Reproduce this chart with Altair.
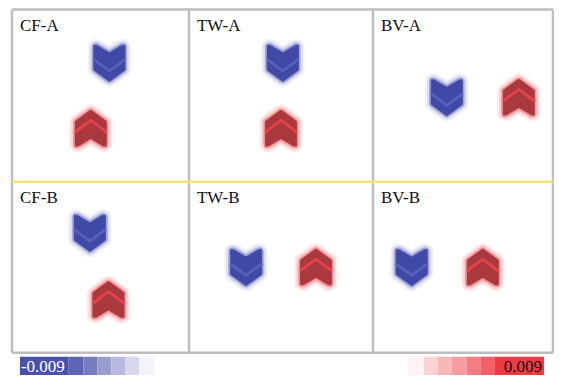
import altair as alt
import pandas as pd

# ---------------- data ----------------
panels = ["CF-A", "TW-A", "BV-A", "CF-B", "TW-B", "BV-B"]
panel_row = [0, 0, 0, 1, 1, 1]
panel_col = [0, 1, 2, 0, 1, 2]
# chevron positions inside each panel (fraction of panel width / height, y downward)
neg_x = [0.55, 0.51, 0.41, 0.44, 0.31, 0.215]
neg_y = [0.31, 0.31, 0.51, 0.30, 0.50, 0.50]
pos_x = [0.445, 0.50, 0.81, 0.545, 0.69, 0.61]
pos_y = [0.69, 0.69, 0.51, 0.69, 0.50, 0.50]
# colour-bar cells
neg_bar = [-0.009, -0.008, -0.0067, -0.0051, -0.0036, -0.002, -0.0006]
pos_bar = [0.0005, 0.002, 0.0033, 0.0045, 0.006, 0.0072, 0.009]
bar_labels = ["-0.009", "0.009"]

# ---------------- layout (figure units) ----------------
W, H = 546, 368
col_edges = [15, 193, 378, 559]
row_edges = [2, 181, 358.5]
neg_widths = [49, 15, 14, 14, 14, 14, 15]
pos_widths = [16, 14, 14, 15, 14, 14, 50]
neg_start, pos_start = 23, 413
bar_top, bar_bot = 362.7, 381.7
FONT = "Liberation Serif"
SIDE = 38
SIZE = SIDE * SIDE
CORE = (SIDE * 0.82) ** 2

xs = alt.Scale(domain=[15, 559], range=[4, 545], nice=False, zero=False)
ys = alt.Scale(domain=[2, 381.7], range=[1.5, 367], nice=False, zero=False)


def panel_xy(i, fx, fy):
    c, r = panel_col[i], panel_row[i]
    x0, x1 = col_edges[c], col_edges[c + 1]
    y0, y1 = row_edges[r], row_edges[r + 1]
    return x0 + fx * (x1 - x0), y0 + fy * (y1 - y0)


neg_df = pd.DataFrame([dict(zip(("x", "y"), panel_xy(i, neg_x[i], neg_y[i]))) for i in range(6)])
pos_df = pd.DataFrame([dict(zip(("x", "y"), panel_xy(i, pos_x[i], pos_y[i]))) for i in range(6)])

# frame lines
lines = []
for cx in col_edges:
    lines.append(dict(x=cx, x2=cx, y=row_edges[0], y2=row_edges[-1], kind="gray"))
for k, ry in enumerate(row_edges):
    lines.append(dict(x=col_edges[0], x2=col_edges[-1], y=ry, y2=ry,
                      kind="yellow" if k == 1 else "gray"))
lines_df = pd.DataFrame(lines)

labels_df = pd.DataFrame([
    dict(label=panels[i], x=col_edges[panel_col[i]] + 8, y=row_edges[panel_row[i]] + 22)
    for i in range(6)
])

cells = []
x = neg_start
for v, w in zip(neg_bar, neg_widths):
    cells.append(dict(v=v, x=x, x2=x + w, y=bar_top, y2=bar_bot))
    x += w
x = pos_start
for v, w in zip(pos_bar, pos_widths):
    cells.append(dict(v=v, x=x, x2=x + w, y=bar_top, y2=bar_bot))
    x += w
cells_df = pd.DataFrame(cells)

neg_text_df = pd.DataFrame([dict(t=bar_labels[0], x=neg_start + 1, y=bar_bot - 3.5)])
pos_text_df = pd.DataFrame([dict(t=bar_labels[1], x=pos_start + sum(pos_widths) - 2, y=bar_bot - 3.5)])

# ---------------- chevrons ----------------
DOWN = "M -0.85 -1 L 0 -0.5 L 0.85 -1 L 0.85 0.38 L 0 1 L -0.85 0.38 Z"
DOWN_IN = "M -0.85 -0.2 L 0 0.42 L 0.85 -0.2"
UP = "M -0.85 1 L 0 0.5 L 0.85 1 L 0.85 -0.38 L 0 -1 L -0.85 -0.38 Z"
UP_IN = "M -0.85 0.2 L 0 -0.42 L 0.85 0.2"


def enc(ch):
    return ch.encode(
        x=alt.X("x:Q", scale=xs, axis=None),
        y=alt.Y("y:Q", scale=ys, axis=None),
    )


def chevron(df, body_path, inner_path, glow, mid, body, inner):
    base = alt.Chart(df)
    layers = [enc(base.mark_point(shape=body_path, size=SIZE, filled=True, fill="#5c5c66",
                                  strokeWidth=0, opacity=0.8))]
    for sw, op, col in [(17, 0.1), (13, 0.18), (9, 0.4), (5, 0.92)] and [
        (17, 0.1, glow), (13, 0.18, glow), (9, 0.4, mid), (5, 0.92, body)
    ]:
        layers.append(enc(base.mark_point(shape=body_path, size=CORE, filled=True, fill=col,
                                          stroke=col, strokeWidth=sw, strokeJoin="round",
                                          opacity=op)))
    layers.append(enc(base.mark_point(shape=inner_path, size=SIZE, filled=False, stroke=inner,
                                      strokeWidth=3, opacity=0.75, strokeJoin="round")))
    return layers


frame = alt.Chart(lines_df).mark_rule(strokeWidth=2.5).encode(
    x=alt.X("x:Q", scale=xs, axis=None), x2="x2:Q",
    y=alt.Y("y:Q", scale=ys, axis=None), y2="y2:Q",
    color=alt.Color("kind:N", scale=alt.Scale(domain=["gray", "yellow"],
                                              range=["#bdbdbd", "#f7e27a"]), legend=None),
)

labels = alt.Chart(labels_df).mark_text(font=FONT, fontSize=17, align="left",
                                        baseline="alphabetic", color="#111111").encode(
    x=alt.X("x:Q", scale=xs, axis=None), y=alt.Y("y:Q", scale=ys, axis=None), text="label:N")

bar = alt.Chart(cells_df).mark_rect().encode(
    x=alt.X("x:Q", scale=xs, axis=None), x2="x2:Q",
    y=alt.Y("y:Q", scale=ys, axis=None), y2="y2:Q",
    fill=alt.Fill("v:Q", scale=alt.Scale(domain=[-0.009, 0, 0.009], interpolate="rgb",
                                         range=["#4a51ad", "#ffffff", "#ef3a43"]), legend=None),
)

neg_text = alt.Chart(neg_text_df).mark_text(font=FONT, fontSize=17, baseline="alphabetic",
                                            align="left", color="white").encode(
    x=alt.X("x:Q", scale=xs, axis=None), y=alt.Y("y:Q", scale=ys, axis=None), text="t:N")
pos_text = alt.Chart(pos_text_df).mark_text(font=FONT, fontSize=17, baseline="alphabetic",
                                            align="right", color="#111111").encode(
    x=alt.X("x:Q", scale=xs, axis=None), y=alt.Y("y:Q", scale=ys, axis=None), text="t:N")

neg_layers = chevron(neg_df, DOWN, DOWN_IN, "#7a80cc", "#4d55b2", "#3d47a7", "#5e67c0")
pos_layers = chevron(pos_df, UP, UP_IN, "#ff5a62", "#f0434b", "#a8363b", "#f5454d")

chart = alt.layer(frame, bar, neg_text, pos_text, labels, *neg_layers, *pos_layers).properties(
    width=W, height=H,
    padding=0,
    autosize=alt.AutoSizeParams(type="none"),
).configure_view(strokeWidth=0).resolve_scale(color="independent")

chart.save("out.html", embed_options={"renderer": "svg", "actions": False})
